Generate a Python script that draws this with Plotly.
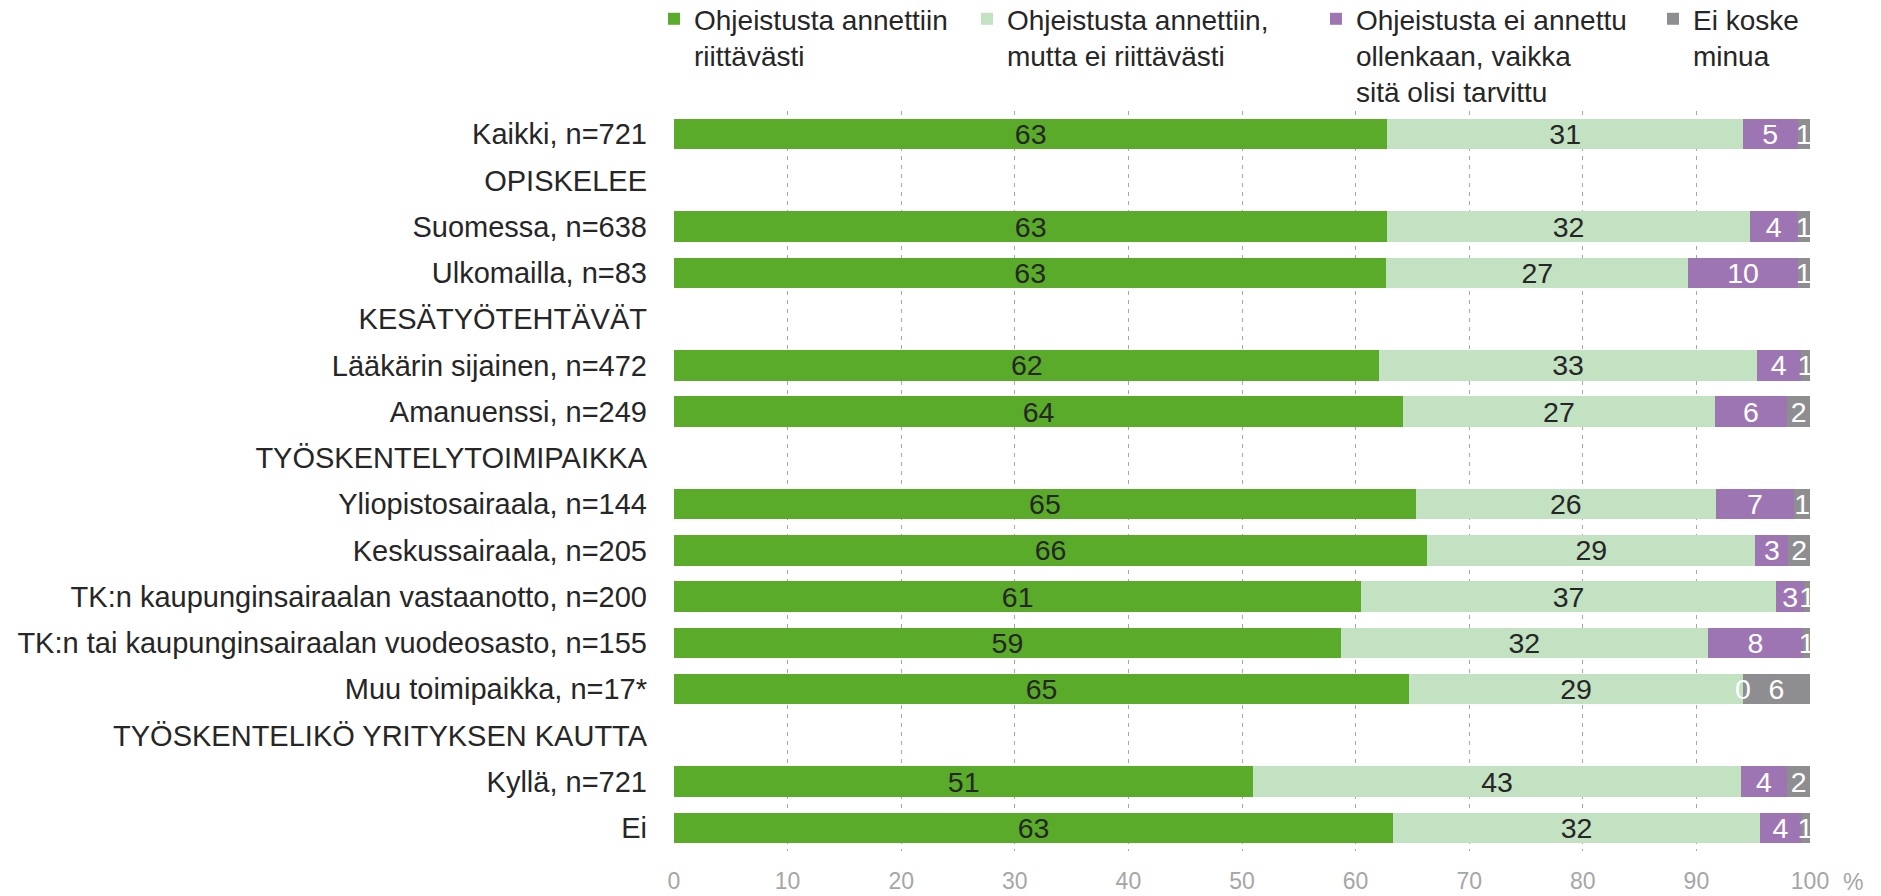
import plotly.graph_objects as go

categories = [
    "Kaikki, n=721",
    "OPISKELEE",
    "Suomessa, n=638",
    "Ulkomailla, n=83",
    "KESÄTYÖTEHTÄVÄT",
    "Lääkärin sijainen, n=472",
    "Amanuenssi, n=249",
    "TYÖSKENTELYTOIMIPAIKKA",
    "Yliopistosairaala, n=144",
    "Keskussairaala, n=205",
    "TK:n kaupunginsairaalan vastaanotto, n=200",
    "TK:n tai kaupunginsairaalan vuodeosasto, n=155",
    "Muu toimipaikka, n=17*",
    "TYÖSKENTELIKÖ YRITYKSEN KAUTTA",
    "Kyllä, n=721",
    "Ei",
]

riittavasti = [62.8, None, 62.8, 62.7, None, 62.1, 64.2, None, 65.3, 66.3, 60.5, 58.7, 64.7, None, 51.0, 63.3]
ei_riittavasti = [31.3, None, 31.9, 26.6, None, 33.2, 27.4, None, 26.4, 28.9, 36.5, 32.3, 29.4, None, 42.9, 32.3]
ei_ollenkaan = [4.8, None, 4.2, 9.6, None, 3.9, 6.4, None, 6.9, 2.9, 2.5, 8.4, 0.0, None, 4.1, 3.6]
ei_koske = [1.1, None, 1.1, 1.1, None, 0.8, 2.0, None, 1.4, 1.9, 0.5, 0.6, 5.9, None, 2.0, 0.8]

series_names = [
    "Ohjeistusta annettiin<br>riittävästi",
    "Ohjeistusta annettiin,<br>mutta ei riittävästi",
    "Ohjeistusta ei annettu<br>ollenkaan, vaikka<br>sitä olisi tarvittu",
    "Ei koske<br>minua",
]
series_values = [riittavasti, ei_riittavasti, ei_ollenkaan, ei_koske]
colors = ["#59AB29", "#C3E2C2", "#9E75B3", "#8E8E91"]
text_colors = ["#262626", "#262626", "#FFFFFF", "#FFFFFF"]

x_ticks = [0, 10, 20, 30, 40, 50, 60, 70, 80, 90, 100]

FONT = "Arial, Liberation Sans, sans-serif"
legend_ids = ["legend", "legend2", "legend3", "legend4"]
legend_x = [-0.0176, 0.2579, 0.5651, 0.8618]

fig = go.Figure()
for name, vals, col, tcol, lid in zip(series_names, series_values, colors, text_colors, legend_ids):
    fig.add_trace(go.Bar(
        y=categories,
        x=vals,
        name=name,
        legend=lid,
        orientation="h",
        marker=dict(color=col, line=dict(width=0)),
        texttemplate="%{x:.0f}",
        textposition="inside",
        insidetextanchor="middle",
        constraintext="none",
        textangle=0,
        insidetextfont=dict(color=tcol, size=28.5, family=FONT),
        hoverinfo="x+y+name",
    ))

# labels for zero-length segments (the library draws no text for them)
annotations = []
for s, vals in enumerate(series_values):
    for i, v in enumerate(vals):
        if v is not None and v == 0:
            base = sum(series_values[k][i] for k in range(s))
            annotations.append(dict(
                x=base + v, y=categories[i], xref="x", yref="y",
                text=f"{v:.0f}", showarrow=False,
                xanchor="center", yanchor="middle",
                font=dict(size=28.5, color=text_colors[s], family=FONT),
            ))

annotations.append(dict(
    text="%", xref="paper", yref="paper", x=1.038, y=-0.042,
    xanchor="center", yanchor="middle", showarrow=False,
    font=dict(size=23, color="#A6A6A6", family=FONT),
))

legend_style = dict(
    orientation="h",
    xref="paper",
    yref="paper",
    xanchor="left",
    y=1.158,
    yanchor="top",
    font=dict(size=28, family=FONT, color="#262626"),
    valign="top",
    itemclick=False,
    bgcolor="rgba(0,0,0,0)",
)

layout_legends = {lid: dict(legend_style, x=lx) for lid, lx in zip(legend_ids, legend_x)}

fig.update_layout(
    width=1881,
    height=896,
    barmode="stack",
    bargap=0.34,
    plot_bgcolor="white",
    paper_bgcolor="white",
    font=dict(family=FONT, color="#262626"),
    margin=dict(l=674, r=71, t=111, b=45, autoexpand=False),
    showlegend=True,
    xaxis=dict(
        range=[0, 100],
        tickvals=x_ticks,
        ticktext=[str(t) for t in x_ticks],
        showgrid=True,
        gridcolor="#A6A6A6",
        gridwidth=1,
        griddash="4px,5px",
        zeroline=False,
        showline=False,
        ticks="",
        tickfont=dict(size=23, color="#A6A6A6", family=FONT),
        ticklabelstandoff=14,
        fixedrange=True,
    ),
    yaxis=dict(
        categoryorder="array",
        categoryarray=categories,
        autorange="reversed",
        showgrid=False,
        zeroline=False,
        showline=False,
        ticks="",
        tickfont=dict(size=29, color="#262626", family=FONT),
        ticklabelstandoff=26,
        fixedrange=True,
    ),
    annotations=annotations,
    **layout_legends,
)

fig.write_html(
    "out.html",
    config={"displayModeBar": False},
    post_script="document.body.style.margin='0';document.body.style.overflow='hidden';",
)
